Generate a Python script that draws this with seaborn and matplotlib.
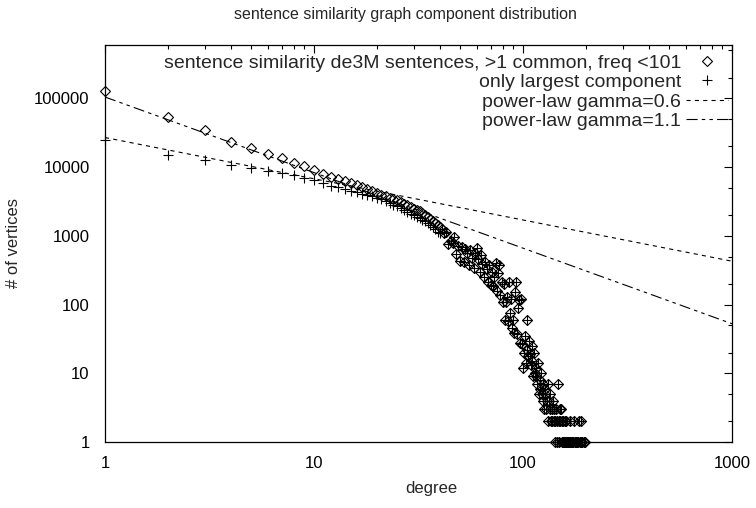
import numpy as np
import pandas as pd
import matplotlib
matplotlib.use("Agg")
import matplotlib.pyplot as plt
from matplotlib.ticker import LogLocator, NullFormatter, FixedLocator, FixedFormatter
import seaborn as sns

# ---------------- data ----------------
degrees = list(range(1, 201))

all_counts = [
    130000, 53500, 34400, 23300, 18850, 15600, 13640, 11540, 10300, 9100,
    8000, 7300, 6700, 6250, 5800, 5450, 5200, 4850, 4550, 4250,
    4000, 3750, 3550, 3420, 3300, 3150, 2950, 2800, 2650, 2500,
    2400, 2280, 2150, 2000, 1900, 1780, 1650, 1560, 1450, 1350,
    1250, 1100, 1150, 760, 850, 800, 950, 540, 720, 430,
    700, 420, 650, 560, 380, 620, 470, 340, 560, 660,
    460, 300, 520, 390, 250, 420, 330, 210, 380, 190,
    300, 188, 250, 400, 160, 290, 380, 140, 210, 110,
    200, 60, 108, 130, 58, 210, 75, 120, 45, 60,
    38, 150, 210, 37, 90, 115, 28, 120, 27, 12,
    20, 35, 14, 60, 22, 18, 30, 19, 13, 25,
    15, 9, 20, 10, 12, 9, 7, 14, 5, 8,
    6, 10, 5, 4, 7, 3, 5, 6, 3, 4,
    7, 2, 4, 3, 5, 2, 2, 3, 4, 2,
    3, 1, 2, 3, 1, 2, 7, 2, 1, 3,
    2, 3, 1, 2, 1, 2, 1, 1, 2, 1,
    2, 1, 1, 0, 1, 1, 2, 1, 0, 1,
    1, 0, 1, 1, 0, 2, 1, 0, 1, 1,
    0, 1, 0, 1, 2, 0, 1, 0, 1, 2,
    0, 1, 0, 0, 1, 0, 0, 1, 0, 0,
]

largest_low = [
    24500, 14800, 12900, 10800, 9780, 8840, 8180, 7590, 7000, 6400,
    5800, 5400, 5100, 4800, 4550, 4300, 4100, 3900, 3750, 3600,
    3400, 3200, 3000, 2850, 2700, 2550, 2400, 2250, 2100, 2000,
    1900, 1800, 1700, 1620, 1550, 1450, 1350, 1250, 1150, 1100,
]
largest_counts = largest_low + all_counts[40:]

gamma_values = [0.6, 1.1]
gamma_amplitudes = [27000, 105000]

x_ticks = [1, 10, 100, 1000]
x_tick_labels = ["1", "10", "100", "1000"]
y_ticks = [1, 10, 100, 1000, 10000, 100000]
y_tick_labels = ["1", "10", "100", "1000", "10000", "100000"]

title = "sentence similarity graph component distribution"
label_all = "sentence similarity de3M sentences, >1 common, freq <101"
label_largest = "only largest component"
label_g1 = "power-law gamma=0.6"
label_g2 = "power-law gamma=1.1"

df_all = pd.DataFrame({"degree": degrees, "count": all_counts})
df_all = df_all[df_all["count"] > 0]
df_lar = pd.DataFrame({"degree": degrees, "count": largest_counts})
df_lar = df_lar[df_lar["count"] > 0]

xfit = np.logspace(0, 3, 400)

# ---------------- style ----------------
sns.set_theme(style="white")
plt.rcParams["font.family"] = ["Liberation Sans", "DejaVu Sans"]
plt.rcParams["lines.scale_dashes"] = False

fig = plt.figure(figsize=(7.56, 5.08), dpi=100)
L, R, T, B = 105, 732, 45, 442
ax = fig.add_axes([L / 756, 1 - B / 508, (R - L) / 756, (B - T) / 508])

sns.lineplot(x=df_all["degree"], y=df_all["count"], ax=ax, estimator=None, sort=False,
             linestyle="", marker="D", markersize=5.3, mfc="none", mec="black",
             mew=0.8, label=label_all, clip_on=False, zorder=3)
sns.lineplot(x=df_lar["degree"], y=df_lar["count"], ax=ax, estimator=None, sort=False,
             linestyle="", marker="+", markersize=7.5, color="black", mec="black",
             mew=0.8, label=label_largest, clip_on=False, zorder=3)

dash_styles = [(0, (3, 3)), (0, (8, 3, 2.5, 3, 2.5, 3))]
for g, a, lab, ds in zip(gamma_values, gamma_amplitudes, [label_g1, label_g2], dash_styles):
    sns.lineplot(x=xfit, y=a * xfit ** (-g), ax=ax, estimator=None, sort=False,
                 color="black", linewidth=0.8, linestyle=ds, label=lab, zorder=2)

ax.set_xscale("log")
ax.set_yscale("log")
ax.set_xlim(1, 1000)
ax.set_ylim(1, 6e5)

ax.xaxis.set_major_locator(FixedLocator(x_ticks))
ax.xaxis.set_major_formatter(FixedFormatter(x_tick_labels))
ax.xaxis.set_minor_locator(LogLocator(base=10, subs=np.arange(2, 10)))
ax.xaxis.set_minor_formatter(NullFormatter())
ax.yaxis.set_major_locator(FixedLocator(y_ticks))
ax.yaxis.set_major_formatter(FixedFormatter(y_tick_labels))
ax.yaxis.set_minor_locator(LogLocator(base=10, subs=[2.0, 5.0]))
ax.yaxis.set_minor_formatter(NullFormatter())

ax.tick_params(which="both", direction="in", top=True, right=True, colors="black",
               labelsize=12, width=0.8)
ax.tick_params(which="major", length=6)
ax.tick_params(which="minor", length=3)
ax.tick_params(axis="x", which="major", pad=10)
ax.tick_params(axis="y", which="major", pad=11)
for s in ax.spines.values():
    s.set_color("black")
    s.set_linewidth(0.9)

ax.set_xlabel("degree", fontsize=12)
ax.set_ylabel("# of vertices", fontsize=12)
ax.xaxis.set_label_coords((431 - L) / (R - L), -(488 - B) / (B - T))
ax.xaxis.label.set_va("center")
ax.yaxis.set_label_coords(-(L - 14) / (R - L), 0.5)
ax.yaxis.label.set_va("center")
fig.text(405 / 756, 1 - 15 / 508, title, ha="center", va="center", fontsize=11.5)

leg = ax.legend(loc="upper right", frameon=False, markerfirst=False, fontsize=14,
                handlelength=2.15, labelspacing=0.1, borderaxespad=0.0,
                handletextpad=0.25, borderpad=0.0,
                bbox_to_anchor=((728 - L) / (R - L), (B - 54) / (B - T)))

fig.savefig("out.png", dpi=100)
